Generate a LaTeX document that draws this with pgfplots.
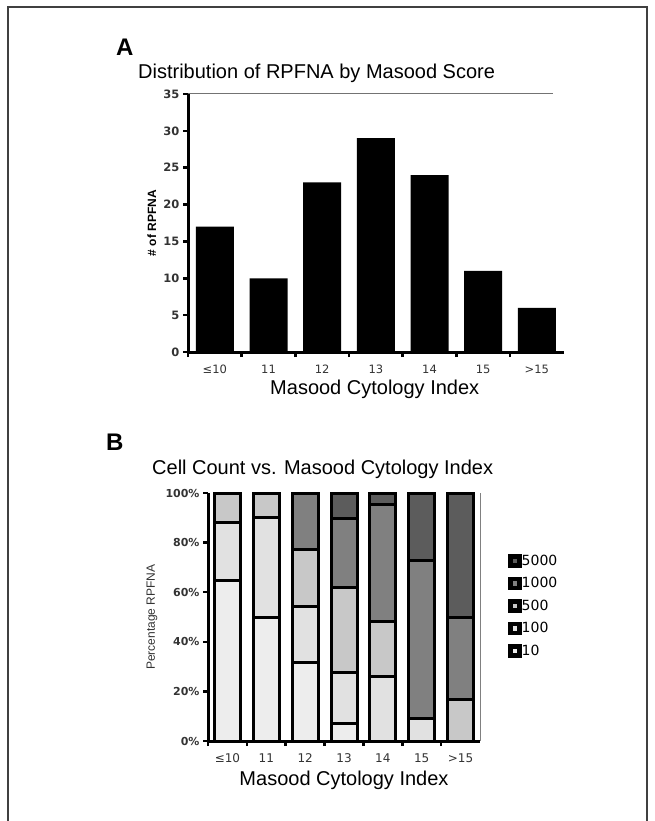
\documentclass[border=0pt]{standalone}
\usepackage{fontspec}
\setmainfont{Liberation Sans}
\newfontfamily\dv{DejaVu Sans}
\usepackage{pgfplots}
\pgfplotsset{compat=1.18}
\definecolor{cA}{HTML}{EDEDED}
\definecolor{cB}{HTML}{E1E1E1}
\definecolor{cC}{HTML}{C8C8C8}
\definecolor{cD}{HTML}{808080}
\definecolor{cE}{HTML}{5C5C5C}
\newcommand{\fs}[1]{\fontsize{#1}{#1}\selectfont}
\begin{document}
\begin{tikzpicture}[x=1bp,y=1bp]
\path[use as bounding box] (0,0) rectangle (655,-821);
\draw[line width=1.2bp, black!75] (8,-821) -- (8,-7) -- (647,-7) -- (647,-821);
\node[anchor=base west, inner sep=0pt, font=\fs{24bp}\bfseries] at (116,-56) {A};
\node[anchor=base west, inner sep=0pt, font=\fs{20bp}] at (138,-79) {Distribution of RPFNA by Masood Score};
\node[anchor=base west, inner sep=0pt, font=\fs{24bp}\bfseries] at (106,-450) {B};
\node[anchor=base west, inner sep=0pt, font=\fs{20bp}] at (152,-474) {Cell Count vs. Masood Cytology Index};
\draw[black!55, line width=1bp] (188,-93.5) -- (553,-93.5);

\begin{axis}[at={(188bp,-352bp)}, anchor=south west, scale only axis,
  width=375.7bp, height=258bp,
  xmin=-0.5, xmax=6.5, ymin=0, ymax=35,
  axis x line=bottom, axis y line=left,
  axis line style={-, line width=3bp, black},
  ybar, bar width=38bp,
  xtick={0,...,6}, xticklabels={≤10,11,12,13,14,15,>15},
  major x tick style={draw=none},
  minor xtick={-0.5,0.5,...,5.5},
  minor x tick style={line width=2.5bp, black},
  minor tick length=5bp, major tick length=5bp,
  ytick={0,5,...,35}, yticklabels={0,5,10,15,20,25,30,35},
  major y tick style={line width=2.5bp, black},
  tick align=outside,
  xticklabel style={font=\dv\fs{11.5bp}, text=black!80, text height=8.5bp, text depth=0pt, yshift=-4bp},
  yticklabel style={font=\dv\bfseries\fs{11.5bp}, text=black!80},
  xlabel={Masood Cytology Index},
  xlabel style={font=\fs{20bp}, at={(axis description cs:0.497,-0.145)}, anchor=center, inner sep=0pt},
  ylabel={\# of RPFNA},
  ylabel style={font=\bfseries\fs{12bp}, at={(axis description cs:-0.096,0.5)}, anchor=center, inner sep=0pt},
  clip=false,
]
\addplot[fill=black, draw=none] coordinates {(0,17) (1,10) (2,23) (3,29) (4,24) (5,11) (6,6)};
\end{axis}

\begin{axis}[at={(208bp,-741bp)}, anchor=south west, scale only axis,
  width=272bp, height=248bp,
  xmin=-0.5, xmax=6.5, ymin=0, ymax=100,
  axis x line=bottom, axis y line=left,
  axis line style={-, line width=3bp, black},
  ybar stacked, bar width=26bp,
  xtick={0,...,6}, xticklabels={≤10,11,12,13,14,15,>15},
  major x tick style={draw=none},
  minor xtick={-0.5,0.5,...,5.5},
  minor x tick style={line width=2.5bp, black},
  minor tick length=5bp, major tick length=5bp,
  ytick={0,20,...,100}, yticklabels={0\%,20\%,40\%,60\%,80\%,100\%},
  major y tick style={line width=2.5bp, black},
  tick align=outside,
  xticklabel style={font=\dv\fs{12bp}, text=black!80, text height=9bp, text depth=0pt, yshift=-4bp},
  yticklabel style={font=\dv\bfseries\fs{11bp}, text=black!80},
  xlabel={Masood Cytology Index},
  xlabel style={font=\fs{20bp}, at={(axis description cs:0.5,-0.16)}, anchor=center, inner sep=0pt},
  ylabel={Percentage RPFNA},
  ylabel style={font=\fs{12bp}, text=black!80, at={(axis description cs:-0.206,0.5)}, anchor=center, inner sep=0pt},
  clip=false,
  legend image code/.code={\draw[#1, draw=black, line width=4.5bp] (2bp,-4.5bp) rectangle (11bp,4.5bp);},
  reverse legend, legend cell align=left,
  legend style={draw=none, fill=none, at={(1.103,0.754)}, anchor=north west,
    font=\dv\fs{14bp}, row sep=9bp, inner sep=0pt,
    nodes={inner sep=0pt, text height=11bp, text depth=2.5bp},
    /tikz/every even column/.append style={column sep=2.5bp}},
]
\addplot[fill=cA, draw=black, line width=3bp] coordinates {(0,64.7) (1,50) (2,31.8) (3,6.9) (4,0) (5,0) (6,0)};
\addplot[fill=cB, draw=black, line width=3bp] coordinates {(0,23.5) (1,40) (2,22.6) (3,20.7) (4,26.2) (5,9.1) (6,0)};
\addplot[fill=cC, draw=black, line width=3bp] coordinates {(0,11.8) (1,10) (2,23) (3,34.5) (4,21.9) (5,0) (6,16.7)};
\addplot[fill=cD, draw=black, line width=3bp] coordinates {(0,0) (1,0) (2,22.6) (3,27.6) (4,47.3) (5,63.6) (6,33.3)};
\addplot[fill=cE, draw=black, line width=3bp] coordinates {(0,0) (1,0) (2,0) (3,10.3) (4,4.6) (5,27.3) (6,50)};
\legend{10,100,500,1000,5000}
\draw[black!50, line width=1bp] (rel axis cs:1,0) -- (rel axis cs:1,1);
\end{axis}
\end{tikzpicture}
\end{document}
